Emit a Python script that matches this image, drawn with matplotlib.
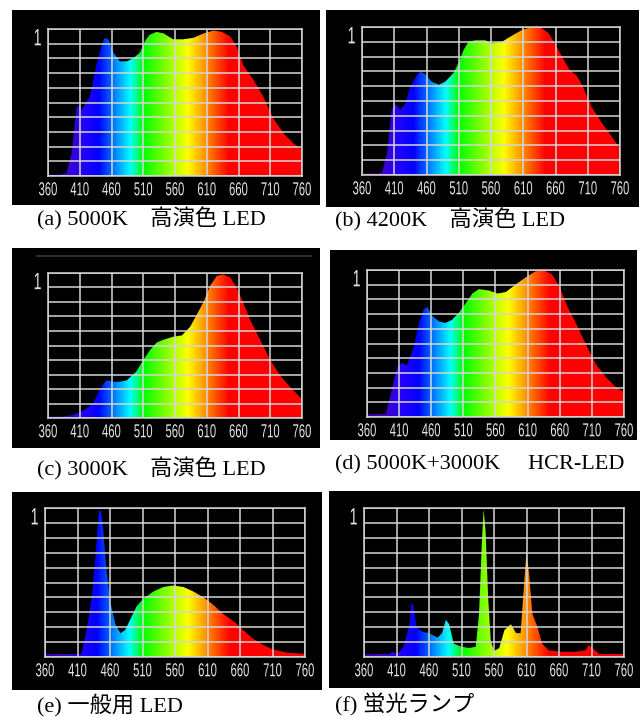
import numpy as np
import matplotlib
matplotlib.use("Agg")
import matplotlib.pyplot as plt
from matplotlib.patches import Polygon
from matplotlib.patheffects import AbstractPathEffect
from matplotlib.transforms import Affine2D

# 各スペクトル（波長 nm, 相対強度）: 図から読み取り
wl_a = [360, 380, 389, 397, 405, 410, 413, 426, 436, 444, 449, 455, 463, 473, 484, 494, 505, 513, 520,
        531, 542, 557, 573, 589, 605, 621, 634, 647, 657, 668, 684, 699, 715, 731, 747, 760]
val_a = [0.01, 0.01, 0.02, 0.15, 0.47, 0.48, 0.45, 0.54, 0.75, 0.88, 0.94, 0.93, 0.84, 0.78, 0.78, 0.80,
         0.84, 0.92, 0.96, 0.98, 0.97, 0.93, 0.93, 0.94, 0.97, 0.99, 0.98, 0.95, 0.88, 0.75, 0.65, 0.54,
         0.39, 0.29, 0.22, 0.18]

wl_b = [360, 385, 391, 399, 406, 412, 419, 427, 435, 443, 450, 458, 468, 479, 489, 502, 510, 517, 525,
        535, 551, 561, 577, 592, 608, 623, 636, 649, 659, 670, 682, 693, 701, 716, 732, 747, 760]
val_b = [0.01, 0.01, 0.02, 0.15, 0.44, 0.48, 0.44, 0.48, 0.60, 0.66, 0.70, 0.68, 0.63, 0.61, 0.63, 0.69,
         0.76, 0.84, 0.90, 0.91, 0.91, 0.89, 0.90, 0.94, 0.98, 1.00, 1.00, 0.96, 0.89, 0.80, 0.71, 0.67,
         0.61, 0.46, 0.35, 0.26, 0.18]

wl_c = [360, 380, 399, 415, 431, 442, 452, 463, 473, 484, 499, 510, 521, 531, 542, 557, 571, 584, 594,
        605, 615, 626, 636, 647, 657, 668, 678, 694, 710, 726, 742, 760]
val_c = [0.01, 0.01, 0.02, 0.05, 0.10, 0.20, 0.26, 0.25, 0.25, 0.26, 0.32, 0.40, 0.47, 0.52, 0.54, 0.56,
         0.57, 0.63, 0.71, 0.80, 0.91, 0.98, 0.99, 0.97, 0.90, 0.79, 0.68, 0.54, 0.40, 0.29, 0.21, 0.13]

wl_d = [360, 380, 389, 396, 407, 415, 422, 433, 441, 448, 454, 461, 472, 482, 492, 503, 513, 524, 534,
        550, 563, 576, 591, 607, 622, 635, 648, 659, 672, 685, 700, 716, 732, 748, 760]
val_d = [0.02, 0.02, 0.02, 0.14, 0.34, 0.37, 0.35, 0.48, 0.64, 0.73, 0.75, 0.69, 0.65, 0.64, 0.66, 0.71,
         0.77, 0.84, 0.87, 0.86, 0.84, 0.85, 0.90, 0.95, 0.99, 1.00, 0.97, 0.89, 0.75, 0.64, 0.50, 0.36,
         0.27, 0.20, 0.17]

wl_e = [360, 400, 416, 424, 432, 438, 443, 446, 449, 454, 460, 468, 476, 483, 491, 501, 511, 527, 542,
        557, 573, 588, 604, 619, 634, 650, 665, 681, 696, 711, 732, 760]
val_e = [0.02, 0.02, 0.02, 0.18, 0.40, 0.70, 0.98, 0.98, 0.88, 0.61, 0.38, 0.22, 0.16, 0.18, 0.25, 0.34,
         0.39, 0.44, 0.47, 0.48, 0.47, 0.44, 0.40, 0.35, 0.29, 0.24, 0.18, 0.12, 0.08, 0.05, 0.03, 0.02]

wl_f = [360, 398, 404, 411, 421, 430, 433, 436, 441, 450, 460, 473, 480, 486, 491, 498, 509, 522, 532,
        537, 541, 544, 547, 551, 555, 560, 568, 576, 586, 594, 601, 606, 610, 614, 619, 627, 634, 644,
        665, 685, 701, 706, 711, 722, 760]
val_f = [0.02, 0.02, 0.035, 0.02, 0.07, 0.22, 0.36, 0.35, 0.20, 0.17, 0.16, 0.13, 0.16, 0.25, 0.22, 0.09,
         0.07, 0.06, 0.07, 0.29, 0.74, 0.99, 0.85, 0.40, 0.11, 0.04, 0.06, 0.18, 0.22, 0.16, 0.16, 0.47,
         0.71, 0.56, 0.29, 0.20, 0.09, 0.045, 0.035, 0.035, 0.045, 0.08, 0.06, 0.02, 0.02]

tick_wl = [360, 410, 460, 510, 560, 610, 660, 710, 760]
tick_labels = ["360", "410", "460", "510", "560", "610", "660", "710", "760"]
captions = ["(a) 5000K\u3000高演色 LED", "(b) 4200K\u3000高演色 LED",
            "(c) 3000K\u3000高演色 LED", "(d) 5000K+3000K\u3000 HCR-LED",
            "(e) 一般用 LED", "(f) 蛍光ランプ"]
spectra = [(wl_a, val_a), (wl_b, val_b), (wl_c, val_c), (wl_d, val_d), (wl_e, val_e), (wl_f, val_f)]

# ピクセル位置 (黒枠 x0,y0,x1,y1 / グリッド枠 / キャプション位置)
black_px = [(12, 10, 320, 205), (326, 10, 639, 207), (12, 248, 320, 448),
            (330, 250, 637, 440), (12, 492, 322, 690), (329, 491, 640, 688)]
grid_px = [(48, 29, 302, 176), (362, 27, 620, 175), (48, 273, 302, 418),
           (367, 270, 624, 417), (45, 508, 305, 657), (364, 508, 624, 657)]
cap_px = [(37, 219), (335, 220), (37, 469), (335, 465), (37, 705), (335, 705)]

W, H = 644, 717


def rect(px):
    x0, y0, x1, y1 = px
    return [x0 / W, 1 - y1 / H, (x1 - x0) / W, (y1 - y0) / H]


def wl_rgb(w):
    # 波長 -> 色 (おおよそ)
    if w < 440:
        r, g, b = min(1, max(0, (440 - w) / 60)) * 0.35, 0.0, 1.0
    elif w < 490:
        r, g, b = 0.0, (w - 440) / 50, 1.0
    elif w < 510:
        r, g, b = 0.0, 1.0, (510 - w) / 20
    elif w < 580:
        r, g, b = (w - 510) / 70, 1.0, 0.0
    elif w < 645:
        r, g, b = 1.0, (645 - w) / 65, 0.0
    else:
        r, g, b = 1.0, 0.0, 0.0
    f = 1.0
    if w < 420:
        f = 0.6 + 0.4 * max(0, (w - 360)) / 60
    return (r * f, g * f, b * f)


class Squeeze(AbstractPathEffect):
    # 文字を横方向に縮める（細長い数字フォントの代わり）
    def __init__(self, sx):
        super().__init__()
        self.sx = sx

    def draw_path(self, renderer, gc, tpath, affine, rgbFace=None):
        bb = tpath.get_extents(affine)
        cx = (bb.x0 + bb.x1) / 2
        aff = affine + Affine2D().translate(-cx, 0).scale(self.sx, 1).translate(cx, 0)
        renderer.draw_path(gc, tpath, aff, rgbFace)


xs = np.linspace(360, 760, 801)
grad = np.array([[wl_rgb(w) for w in xs]])

fig = plt.figure(figsize=(6.44, 7.17), dpi=100)
fig.patch.set_facecolor("white")

cap_font = ["Liberation Serif", "Noto Sans CJK JP"]
lab_color = "#e6e6e6"

for i, (wl, val) in enumerate(spectra):
    bg = fig.add_axes(rect(black_px[i]))
    bg.set_facecolor("black")
    bg.set_xticks([])
    bg.set_yticks([])
    for s in bg.spines.values():
        s.set_visible(False)
    if i == 2:
        bg.plot([0.08, 0.97], [0.96, 0.96], color="#3a3a3a", lw=1.2, transform=bg.transAxes)

    ax = fig.add_axes(rect(grid_px[i]))
    ax.set_facecolor("black")
    ax.set_xlim(360, 760)
    ax.set_ylim(0, 1)
    im = ax.imshow(grad, extent=[360, 760, 0, 1], aspect="auto", interpolation="bilinear", zorder=0)
    verts = [(wl[0], 0)] + list(zip(wl, val)) + [(wl[-1], 0)]
    poly = Polygon(verts, closed=True, facecolor="none", edgecolor="none", transform=ax.transData)
    ax.add_patch(poly)
    im.set_clip_path(poly)

    ax.set_xticks(tick_wl)
    ax.set_xticklabels(tick_labels, fontfamily="Liberation Sans", fontsize=13.5, color=lab_color,
                       path_effects=[Squeeze(0.6)])
    ax.set_yticks(np.linspace(0, 1, 11))
    ax.set_yticklabels([])
    ax.tick_params(length=0, pad=4.5)
    ax.grid(True, color="#d6d6d6", lw=1.1)
    ax.set_axisbelow(False)
    for s in ax.spines.values():
        s.set_color("#d6d6d6")
        s.set_linewidth(1.1)
    ax.annotate("1", xy=(0, 0.93), xycoords=("axes fraction", "data"), xytext=(-4, 0),
                textcoords="offset pixels", ha="right", va="center",
                fontfamily="Liberation Sans", fontsize=17, color=lab_color,
                path_effects=[Squeeze(0.6)])

    cx, cy = cap_px[i]
    fig.text(cx / W, 1 - cy / H, captions[i], ha="left", va="center",
             fontfamily=cap_font, fontsize=16, color="black")

fig.savefig("out.png", dpi=100, facecolor="white")
